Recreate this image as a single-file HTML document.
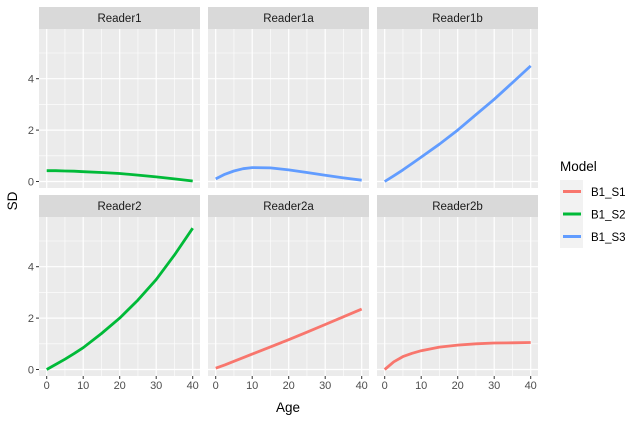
<!DOCTYPE html>
<html><head><meta charset="utf-8"><style>
body{margin:0;background:#fff;}
svg{font-family:"Liberation Sans",Arial,sans-serif;}
</style></head><body>
<svg id="chart" width="641" height="421" xmlns="http://www.w3.org/2000/svg">
<g id="panels"></g>
<text x="0" y="0" transform="translate(17,201) rotate(-90)" text-anchor="middle" font-size="13.5" fill="#000">SD</text>
<text x="288" y="412" text-anchor="middle" font-size="13.5" fill="#000">Age</text>
<g>
<text x="560" y="171" font-size="13.5" fill="#000">Model</text>
<rect x="560" y="180" width="23" height="68" fill="#f2f2f2"/>
<g><line x1="563" x2="581" y1="191.5" y2="191.5" stroke="#F8766D" stroke-width="3"/><text x="591" y="196" font-size="11.5">B1_S1</text></g>
<g><line x1="563" x2="581" y1="214" y2="214" stroke="#00BA38" stroke-width="3"/><text x="591" y="218.5" font-size="11.5">B1_S2</text></g>
<g><line x1="563" x2="581" y1="236.5" y2="236.5" stroke="#619CFF" stroke-width="3"/><text x="591" y="241" font-size="11.5">B1_S3</text></g>
</g>
</svg>
<script>
const ages=[0,2.5,5,7.5,10,15,20,25,30,35,40];
const panelNames=["Reader1","Reader1a","Reader1b","Reader2","Reader2a","Reader2b"];
const panelColors=["#00BA38","#619CFF","#619CFF","#00BA38","#F8766D","#F8766D"];
const r1=[0.42,0.42,0.41,0.40,0.38,0.35,0.31,0.25,0.18,0.1,0.02];
const r1a=[0.1,0.28,0.41,0.5,0.54,0.53,0.45,0.35,0.24,0.14,0.05];
const r1b=[0,0.22,0.45,0.7,0.95,1.45,2.0,2.6,3.2,3.85,4.5];
const r2=[0,0.2,0.4,0.62,0.85,1.4,2.0,2.7,3.5,4.45,5.5];
const r2a=[0.05,0.18,0.32,0.46,0.6,0.88,1.16,1.45,1.75,2.05,2.35];
const r2b=[0,0.3,0.5,0.63,0.73,0.87,0.95,1.0,1.03,1.04,1.05];
const series=[r1,r1a,r1b,r2,r2a,r2b];
const xTicks=[0,10,20,30,40];
const yTicks=[0,2,4];
const NS="http://www.w3.org/2000/svg";
const g=document.getElementById("panels");
function el(t,a,p){const e=document.createElementNS(NS,t);for(const k in a)e.setAttribute(k,a[k]);(p||g).appendChild(e);return e;}
const PX=[39,208,377],PW=161,PH=159,PY=[29,217];
for(let i=0;i<6;i++){
 const c=i%3,r=Math.floor(i/3),x0=PX[c],y0=PY[r];
 const sx=v=>x0+7.7+v*146/40;
 const sy=v=>y0+152.5-v*25.7;
 const grp=el("g",{});
 
 
 el("rect",{x:x0,y:y0-22,width:PW,height:22,fill:"#d9d9d9"},grp);
 const st=el("text",{x:x0+PW/2,y:y0-7,"text-anchor":"middle","font-size":"11.5",fill:"#1a1a1a"},grp);
 st.textContent=panelNames[i];
 
 
 el("rect",{x:x0,y:y0,width:PW,height:PH,fill:"#ebebeb"},grp);
 for(let v=1;v<=5;v+=2) el("line",{x1:x0,x2:x0+PW,y1:sy(v),y2:sy(v),stroke:"#fff","stroke-width":0.6},grp);
 for(let v=5;v<=35;v+=10) el("line",{x1:sx(v),x2:sx(v),y1:y0,y2:y0+PH,stroke:"#fff","stroke-width":0.6},grp);
 yTicks.forEach(v=>el("line",{x1:x0,x2:x0+PW,y1:sy(v),y2:sy(v),stroke:"#fff","stroke-width":1.2},grp));
 xTicks.forEach(v=>el("line",{x1:sx(v),x2:sx(v),y1:y0,y2:y0+PH,stroke:"#fff","stroke-width":1.2},grp));
 if(c===0){yTicks.forEach(v=>{
  el("line",{x1:x0-3,x2:x0,y1:sy(v),y2:sy(v),stroke:"#333","stroke-width":1},grp);
  const t=el("text",{x:x0-5,y:sy(v)+4,"text-anchor":"end","font-size":"11",fill:"#4d4d4d"},grp);t.textContent=v;
  
  
 });}
 if(r===1){xTicks.forEach(v=>{
  el("line",{x1:sx(v),x2:sx(v),y1:y0+PH,y2:y0+PH+3,stroke:"#333","stroke-width":1},grp);
  const t=el("text",{x:sx(v),y:y0+PH+13,"text-anchor":"middle","font-size":"11",fill:"#4d4d4d"},grp);t.textContent=v;
  
  
 });}
 const pts=ages.map((a,k)=>sx(a).toFixed(1)+","+sy(series[i][k]).toFixed(1)).join(" ");
 const ln=el("polyline",{points:pts,fill:"none",stroke:panelColors[i],"stroke-width":2.8,"stroke-linejoin":"round"},grp);
 
 
}
</script>
</body></html>
